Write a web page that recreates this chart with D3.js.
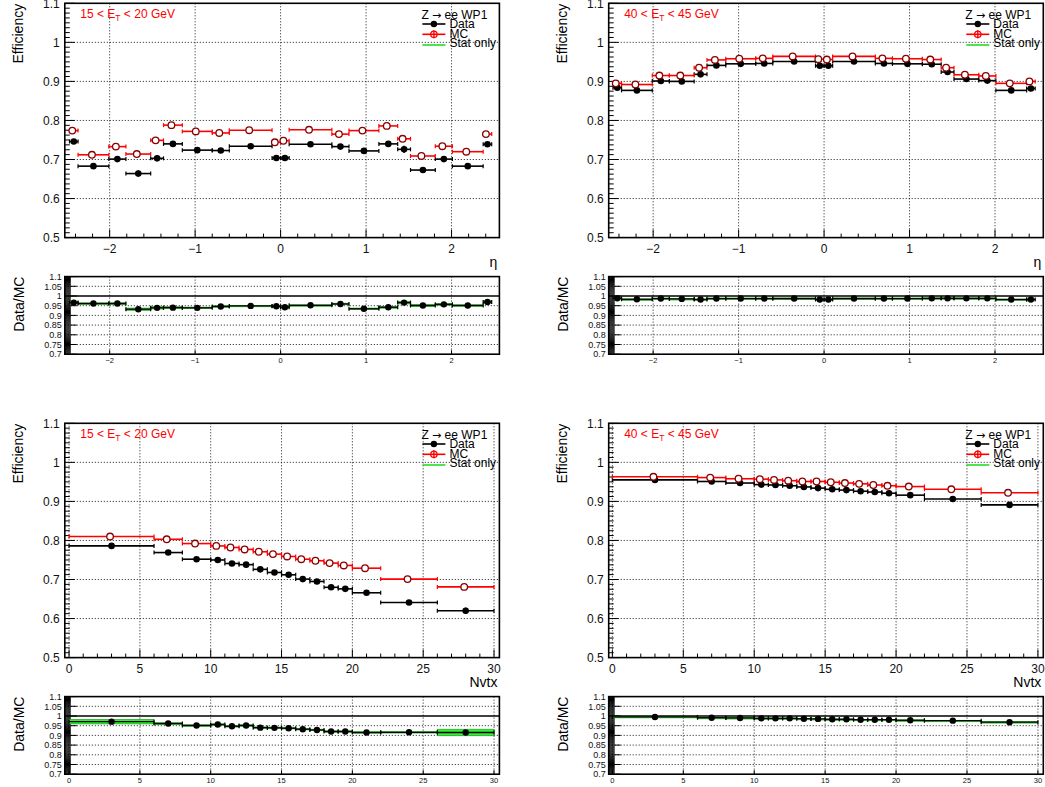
<!DOCTYPE html>
<html><head><meta charset="utf-8">
<script src="https://cdn.jsdelivr.net/npm/d3@7"></script>
<style>
body{margin:0;background:#fff}
text{font-family:"Liberation Sans",Arial,Helvetica,sans-serif}
</style>
</head><body>
<svg id="c" width="1045" height="787"></svg>
<script>
// ---------------- DATA ----------------
const etaEdges  = [-2.47,-2.37,-2.01,-1.81,-1.52,-1.37,-1.15,-0.8,-0.6,-0.1,0,0.1,0.6,0.8,1.15,1.37,1.52,1.81,2.01,2.37,2.47];
const nvtxEdges = [0,6,8,10,11,12,13,14,15,16,17,18,19,20,22,26,30];

const etaLowData  = [0.746,0.683,0.701,0.664,0.703,0.740,0.724,0.723,0.734,0.704,0.704,0.739,0.733,0.722,0.740,0.726,0.673,0.701,0.683,0.739];
const etaLowMC    = [0.774,0.712,0.733,0.714,0.749,0.788,0.772,0.768,0.775,0.744,0.748,0.776,0.765,0.774,0.786,0.753,0.709,0.734,0.720,0.765];
const etaLowDataErr = [0.004,0.003,0.004,0.008,0.007,0.006,0.004,0.003,0.003,0.003,0.003,0.003,0.003,0.003,0.006,0.009,0.007,0.004,0.003,0.004];
const etaLowMCErr   = [0.003,0.002,0.003,0.005,0.007,0.004,0.002,0.002,0.002,0.002,0.002,0.002,0.002,0.002,0.004,0.008,0.005,0.003,0.002,0.003];
const etaLowRatio   = [0.966,0.961,0.961,0.932,0.939,0.940,0.939,0.946,0.949,0.947,0.942,0.952,0.959,0.934,0.942,0.966,0.951,0.957,0.951,0.969];
const etaLowRatioErr= [0.006,0.004,0.005,0.006,0.006,0.005,0.004,0.004,0.003,0.005,0.005,0.003,0.004,0.004,0.005,0.007,0.006,0.005,0.004,0.006];

const etaHighData = [0.884,0.877,0.901,0.900,0.918,0.941,0.945,0.946,0.951,0.940,0.940,0.951,0.946,0.945,0.944,0.924,0.906,0.902,0.877,0.882];
const etaHighMC   = [0.895,0.892,0.915,0.915,0.935,0.955,0.958,0.959,0.964,0.957,0.956,0.964,0.959,0.958,0.956,0.935,0.917,0.914,0.895,0.900];
const etaHighDataErr= [0.002,0.001,0.002,0.002,0.002,0.001,0.001,0.001,0.001,0.001,0.001,0.001,0.001,0.001,0.001,0.002,0.002,0.002,0.001,0.002];
const etaHighMCErr  = [0.002,0.001,0.001,0.001,0.002,0.001,0.001,0.001,0.001,0.001,0.001,0.001,0.001,0.001,0.001,0.002,0.001,0.001,0.001,0.002];
const etaHighRatio  = [0.988,0.983,0.987,0.985,0.982,0.987,0.987,0.987,0.987,0.982,0.982,0.987,0.987,0.987,0.988,0.988,0.988,0.988,0.982,0.982];
const etaHighRatioErr=[0.003,0.002,0.002,0.002,0.003,0.002,0.002,0.002,0.002,0.003,0.003,0.002,0.002,0.002,0.002,0.003,0.002,0.002,0.002,0.003];

const nvtxLowData = [0.786,0.769,0.752,0.750,0.741,0.738,0.726,0.718,0.712,0.701,0.695,0.680,0.676,0.666,0.641,0.620];
const nvtxLowMC   = [0.810,0.803,0.792,0.786,0.782,0.777,0.771,0.765,0.759,0.752,0.748,0.742,0.736,0.729,0.701,0.681];
const nvtxLowDataErr= [0.006,0.003,0.003,0.003,0.003,0.003,0.003,0.003,0.003,0.003,0.003,0.003,0.003,0.003,0.004,0.008];
const nvtxLowMCErr  = [0.004,0.002,0.002,0.002,0.002,0.002,0.002,0.002,0.002,0.002,0.002,0.002,0.002,0.002,0.003,0.005];
const nvtxLowRatio  = [0.971,0.961,0.951,0.956,0.947,0.951,0.940,0.939,0.937,0.932,0.928,0.920,0.920,0.915,0.916,0.915];
const nvtxLowRatioErr=[0.012,0.005,0.004,0.004,0.004,0.004,0.004,0.004,0.004,0.004,0.004,0.004,0.004,0.004,0.004,0.017];

const nvtxHighData = [0.955,0.951,0.947,0.943,0.942,0.940,0.937,0.934,0.931,0.929,0.926,0.924,0.921,0.916,0.906,0.891];
const nvtxHighMC   = [0.963,0.961,0.958,0.957,0.955,0.953,0.951,0.951,0.949,0.947,0.945,0.942,0.940,0.938,0.931,0.922];
const nvtxHighDataErr= [0.002,0.001,0.001,0.001,0.001,0.001,0.001,0.001,0.001,0.001,0.001,0.001,0.001,0.001,0.002,0.003];
const nvtxHighMCErr  = [0.001,0.001,0.001,0.001,0.001,0.001,0.001,0.001,0.001,0.001,0.001,0.001,0.001,0.001,0.001,0.002];
const nvtxHighRatio  = [0.995,0.991,0.990,0.988,0.988,0.988,0.986,0.985,0.983,0.983,0.981,0.981,0.981,0.978,0.976,0.968];
const nvtxHighRatioErr=[0.003,0.002,0.002,0.002,0.002,0.002,0.002,0.002,0.002,0.002,0.002,0.002,0.002,0.002,0.002,0.003];

const etaTicks   = [-2,-1,0,1,2];
const nvtxTicks  = [0,5,10,15,20,25,30];
const effTicks   = [0.5,0.6,0.7,0.8,0.9,1.0,1.1];
const effLabels  = ["0.5","0.6","0.7","0.8","0.9","1","1.1"];
const ratioTicks = [0.7,0.75,0.8,0.85,0.9,0.95,1.0,1.05,1.1];
const ratioLabels= ["0.7","0.75","0.8","0.85","0.9","0.95","1","1.05","1.1"];
const legendLabels = ["Data","MC","Stat only"];
const legendTitle = ["Z ", "\u2192", " ee WP1"];
const etBinLow  = ["15","20"];
const etBinHigh = ["40","45"];

// ---------------- LAYOUT ----------------
const svg = d3.select("#c");
const colX = [64.8, 608.7], frameW = 434.6;
const mainY = [3.3, 423.3], mainH = 234.3;
const ratY  = [276.6, 696.6], ratH = 77.6;
const RED = "#ff0000", GREEN = "#33ee33", MCSTROKE = "#8a0000";

function fmtTick(v){ return v < 0 ? "\u2212" + Math.abs(v) : String(v); }

const panels = [
  {col:0,row:0, edges:etaEdges, xdom:[-2.525,2.56], xt:etaTicks, minor:0.2, xtitle:"\u03b7",
   data:etaLowData, dataErr:etaLowDataErr, mc:etaLowMC, mcErr:etaLowMCErr, ratio:etaLowRatio, ratioErr:etaLowRatioErr, et:etBinLow},
  {col:1,row:0, edges:etaEdges, xdom:[-2.52,2.565], xt:etaTicks, minor:0.2, xtitle:"\u03b7",
   data:etaHighData, dataErr:etaHighDataErr, mc:etaHighMC, mcErr:etaHighMCErr, ratio:etaHighRatio, ratioErr:etaHighRatioErr, et:etBinHigh},
  {col:0,row:1, edges:nvtxEdges, xdom:[-0.3,30.38], xt:nvtxTicks, minor:1, xtitle:"Nvtx",
   data:nvtxLowData, dataErr:nvtxLowDataErr, mc:nvtxLowMC, mcErr:nvtxLowMCErr, ratio:nvtxLowRatio, ratioErr:nvtxLowRatioErr, et:etBinLow},
  {col:1,row:1, edges:nvtxEdges, xdom:[-0.26,30.38], xt:nvtxTicks, minor:1, xtitle:"Nvtx",
   data:nvtxHighData, dataErr:nvtxHighDataErr, mc:nvtxHighMC, mcErr:nvtxHighMCErr, ratio:nvtxHighRatio, ratioErr:nvtxHighRatioErr, et:etBinHigh}
];

function minorVals(dom, step){
  const out=[]; const s=Math.ceil(dom[0]/step - 1e-9);
  for(let i=s; i*step<=dom[1]+1e-9; i++) out.push(+(i*step).toFixed(6));
  return out;
}

function drawErrSeries(g, x, y, edges, vals, errs, color, lw){
  const bins = vals.map((v,i)=>({x0:edges[i], x1:edges[i+1], xc:(edges[i]+edges[i+1])/2, v, e:errs[i]}));
  g.selectAll(null).data(bins).enter().append("line")
    .attr("x1",d=>x(d.x0)).attr("x2",d=>x(d.x1)).attr("y1",d=>y(d.v)).attr("y2",d=>y(d.v))
    .attr("stroke",color).attr("stroke-width",lw);
  ["x0","x1"].forEach(k=>{
    g.selectAll(null).data(bins).enter().append("line")
      .attr("x1",d=>x(d[k])).attr("x2",d=>x(d[k])).attr("y1",d=>y(d.v)-2).attr("y2",d=>y(d.v)+2)
      .attr("stroke",color).attr("stroke-width",1.2);
  });
  g.selectAll(null).data(bins).enter().append("line")
    .attr("x1",d=>x(d.xc)).attr("x2",d=>x(d.xc)).attr("y1",d=>y(d.v-d.e)).attr("y2",d=>y(d.v+d.e))
    .attr("stroke",color).attr("stroke-width",lw);
  return bins;
}

panels.forEach(p=>{
  const fx = colX[p.col];
  // ---------- MAIN ----------
  const my = mainY[p.row];
  const x = d3.scaleLinear().domain(p.xdom).range([fx, fx+frameW]);
  const y = d3.scaleLinear().domain([0.5,1.1]).range([my+mainH, my]);
  const g = svg.append("g");
  // grid
  g.selectAll(null).data(p.xt.filter(v=>v>=p.xdom[0]&&v<=p.xdom[1])).enter().append("line")
    .attr("x1",d=>x(d)).attr("x2",d=>x(d)).attr("y1",my).attr("y2",my+mainH)
    .attr("stroke","#000").attr("stroke-width",0.9).attr("stroke-dasharray","1,2");
  g.selectAll(null).data([0.6,0.7,0.8,0.9,1.0]).enter().append("line")
    .attr("x1",fx).attr("x2",fx+frameW).attr("y1",d=>y(d)).attr("y2",d=>y(d))
    .attr("stroke","#000").attr("stroke-width",0.9).attr("stroke-dasharray","1,2");
  // ticks y
  g.selectAll(null).data(minorVals([0.5,1.1],0.0125)).enter().append("line")
    .attr("x1",fx).attr("x2",d=>fx + (Math.abs(d*10-Math.round(d*10))<1e-6 ? 10 : 5))
    .attr("y1",d=>y(d)).attr("y2",d=>y(d)).attr("stroke","#000").attr("stroke-width",1);
  // ticks x
  g.selectAll(null).data(minorVals(p.xdom,p.minor)).enter().append("line")
    .attr("x1",d=>x(d)).attr("x2",d=>x(d)).attr("y1",my+mainH)
    .attr("y2",d=>my+mainH - (p.xt.some(t=>Math.abs(t-d)<1e-6) ? 8 : 4))
    .attr("stroke","#000").attr("stroke-width",1);
  // y labels
  g.selectAll(null).data(effTicks).enter().append("text")
    .attr("x",fx-5).attr("y",d=>y(d)+4.3).attr("text-anchor","end").attr("font-size",12).attr("fill","#111")
    .text((d,i)=>effLabels[i]);
  // x labels
  g.selectAll(null).data(p.xt).enter().append("text")
    .attr("x",d=>x(d)).attr("y",my+mainH+15).attr("text-anchor","middle").attr("font-size",12).attr("fill","#111")
    .text(d=>fmtTick(d));
  g.append("text").attr("x",fx+frameW-2).attr("y",my+mainH+29).attr("text-anchor","end")
    .attr("font-size",14).text(p.xtitle);
  g.append("text").attr("transform",`translate(${fx-42},${my+0.5}) rotate(-90)`).attr("text-anchor","end")
    .attr("font-size",14).text("Efficiency");

  // series
  drawErrSeries(g, x, y, p.edges, p.data, p.dataErr, "#000", 1.6);
  const mb = drawErrSeries(g, x, y, p.edges, p.mc, p.mcErr, RED, 1.6);
  const db = p.data.map((v,i)=>({xc:(p.edges[i]+p.edges[i+1])/2, v}));
  g.selectAll(null).data(db).enter().append("circle")
    .attr("cx",d=>x(d.xc)).attr("cy",d=>y(d.v)).attr("r",3.3).attr("fill","#000");
  g.selectAll(null).data(mb).enter().append("circle")
    .attr("cx",d=>x(d.xc)-1.5).attr("cy",d=>y(d.v)).attr("r",3.3).attr("fill","#fff")
    .attr("stroke",MCSTROKE).attr("stroke-width",1.3);

  // ET label
  const lt = g.append("text").attr("x",fx+15.5).attr("y",my+14.5).attr("font-size",12).attr("fill",RED);
  lt.append("tspan").text(p.et[0] + " < E");
  lt.append("tspan").attr("font-size",8.5).attr("dy",3).text("T");
  lt.append("tspan").attr("dy",-3).text(" < " + p.et[1] + " GeV");

  // legend
  const lx = fx+frameW;
  const tt = g.append("text").attr("x",lx-78).attr("y",my+15.7).attr("font-size",12);
  tt.append("tspan").text(legendTitle[0]);
  tt.append("tspan").attr("font-family","DejaVu Sans").attr("font-size",11).text(legendTitle[1]);
  tt.append("tspan").text(legendTitle[2]);
  const rows = [{ly:20.7, ty:24.2, c:"#000"},{ly:31, ty:34.2, c:RED},{ly:41.7, ty:43.4, c:"#22dd22"}];
  rows.forEach((r,i)=>{
    g.append("line").attr("x1",lx-77).attr("x2",lx-54).attr("y1",my+r.ly).attr("y2",my+r.ly)
      .attr("stroke",r.c).attr("stroke-width",1.6);
    if(i===0) g.append("circle").attr("cx",lx-65.5).attr("cy",my+r.ly).attr("r",3.2).attr("fill","#000");
    if(i===1){
      g.append("line").attr("x1",lx-65.5).attr("x2",lx-65.5).attr("y1",my+r.ly-4).attr("y2",my+r.ly+4).attr("stroke",RED).attr("stroke-width",1.4);
      g.append("circle").attr("cx",lx-65.5).attr("cy",my+r.ly).attr("r",3.2).attr("fill","none").attr("stroke",RED).attr("stroke-width",1.3);
    }
    g.append("text").attr("x",lx-50).attr("y",my+r.ty).attr("font-size",12).text(legendLabels[i]);
  });

  // frame
  g.append("rect").attr("x",fx).attr("y",my).attr("width",frameW).attr("height",mainH)
    .attr("fill","none").attr("stroke","#000").attr("stroke-width",1.6);

  // ---------- RATIO ----------
  const ry0 = ratY[p.row];
  const ry = d3.scaleLinear().domain([0.7,1.1]).range([ry0+ratH, ry0]);
  const rg = svg.append("g");
  rg.selectAll(null).data(p.xt.filter(v=>v>=p.xdom[0]&&v<=p.xdom[1])).enter().append("line")
    .attr("x1",d=>x(d)).attr("x2",d=>x(d)).attr("y1",ry0).attr("y2",ry0+ratH)
    .attr("stroke","#000").attr("stroke-width",0.9).attr("stroke-dasharray","1,2");
  rg.selectAll(null).data([0.75,0.8,0.85,0.9,0.95,1.05]).enter().append("line")
    .attr("x1",fx).attr("x2",fx+frameW).attr("y1",d=>ry(d)).attr("y2",d=>ry(d))
    .attr("stroke","#000").attr("stroke-width",0.9).attr("stroke-dasharray","1,2");
  rg.append("line").attr("x1",fx).attr("x2",fx+frameW).attr("y1",ry(1)).attr("y2",ry(1))
    .attr("stroke","#000").attr("stroke-width",1.4);
  // ratio y ticks (dense)
  rg.selectAll(null).data(minorVals([0.7,1.1],0.005)).enter().append("line")
    .attr("x1",fx).attr("x2",d=>fx + (Math.abs(d*20-Math.round(d*20))<1e-6 ? 12 : 6))
    .attr("y1",d=>ry(d)).attr("y2",d=>ry(d)).attr("stroke","#000").attr("stroke-width",1);
  rg.selectAll(null).data(p.xt).enter().append("line")
    .attr("x1",d=>x(d)).attr("x2",d=>x(d)).attr("y1",ry0+ratH).attr("y2",ry0+ratH-4)
    .attr("stroke","#000").attr("stroke-width",1);
  rg.selectAll(null).data(ratioTicks).enter().append("text")
    .attr("x",fx-3).attr("y",d=>ry(d)+3.2).attr("text-anchor","end").attr("font-size",9).attr("fill","#111")
    .text((d,i)=>ratioLabels[i]);
  rg.selectAll(null).data(p.xt).enter().append("text")
    .attr("x",d=>x(d)).attr("y",ry0+ratH+8.5).attr("text-anchor","middle").attr("font-size",7.5).attr("fill","#111")
    .text(d=>fmtTick(d));
  rg.append("text").attr("transform",`translate(${fx-41},${ry0}) rotate(-90)`).attr("text-anchor","end")
    .attr("font-size",14).text("Data/MC");
  // stat band
  const rb = p.ratio.map((v,i)=>({x0:p.edges[i], x1:p.edges[i+1], xc:(p.edges[i]+p.edges[i+1])/2, v, e:p.ratioErr[i]}));
  rg.selectAll(null).data(rb).enter().append("rect")
    .attr("x",d=>x(d.x0)).attr("width",d=>x(d.x1)-x(d.x0))
    .attr("y",d=>ry(d.v+d.e)).attr("height",d=>Math.max(1.5, ry(d.v-d.e)-ry(d.v+d.e)))
    .attr("fill",GREEN).attr("stroke","#1a9a1a").attr("stroke-width",0.6);
  drawErrSeries(rg, x, ry, p.edges, p.ratio, p.ratioErr.map(e=>e*0.6), "#000", 1.3);
  rg.selectAll(null).data(rb).enter().append("circle")
    .attr("cx",d=>x(d.xc)).attr("cy",d=>ry(d.v)).attr("r",3.2).attr("fill","#000");
  rg.append("rect").attr("x",fx).attr("y",ry0).attr("width",frameW).attr("height",ratH)
    .attr("fill","none").attr("stroke","#000").attr("stroke-width",1.6);
});
</script>
</body></html>
